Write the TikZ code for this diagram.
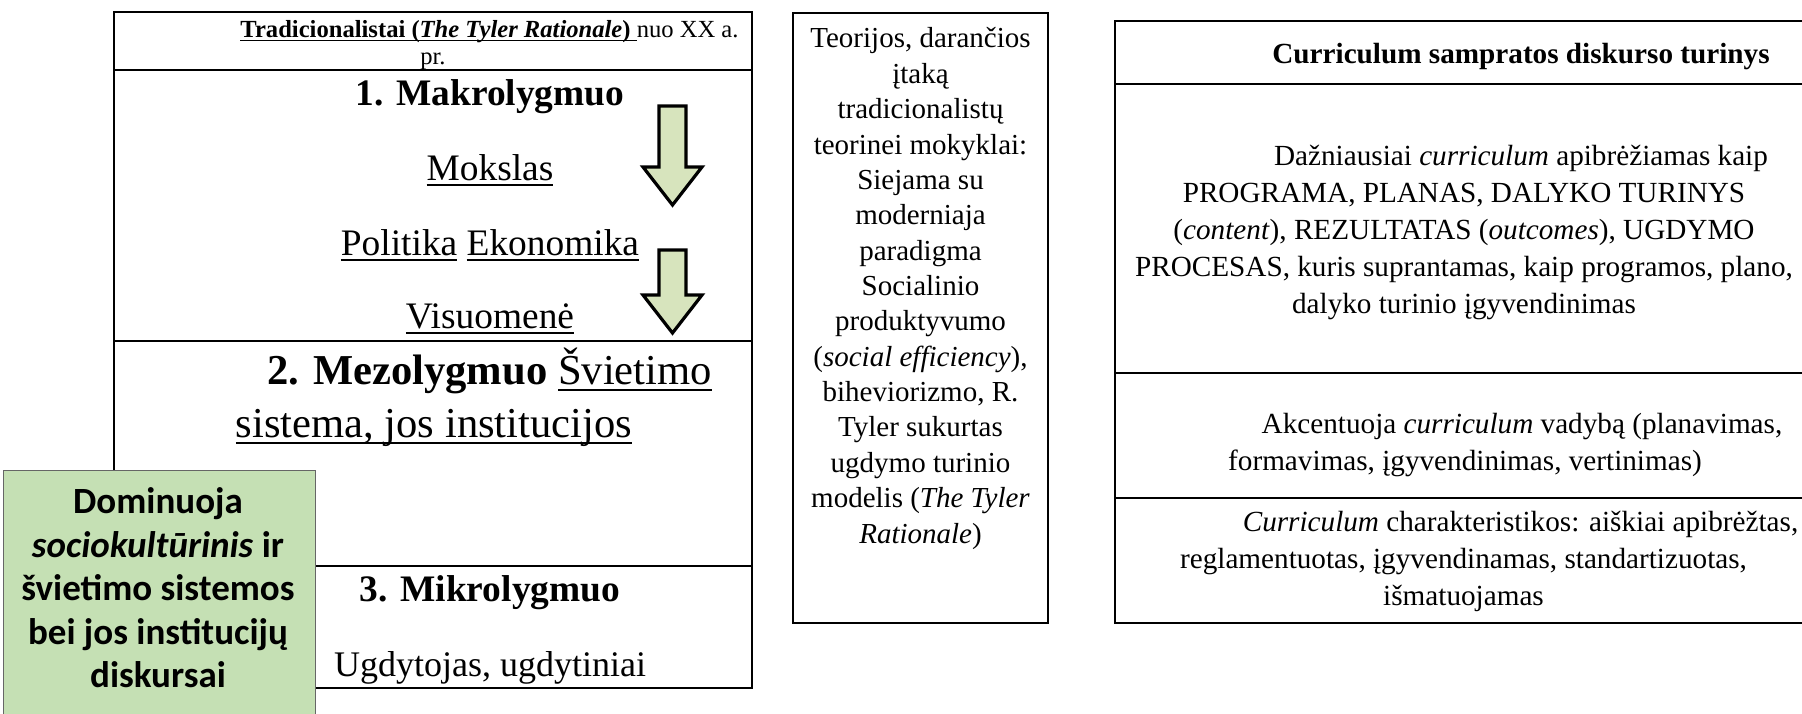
\documentclass[tikz,border=0pt]{standalone}
\usepackage{fontspec}
\setmainfont{Liberation Serif}
\newfontfamily\calibrifont{Carlito}
\definecolor{boxgreen}{HTML}{C5E0B4}
\definecolor{arrowgreen}{HTML}{D7E4BD}
% underline at a fixed depth, as in the word processor
\newcommand{\ulw}[1]{\setbox0=\hbox{#1}\rlap{\rule[-0.15em]{\wd0}{0.05em}}\box0\relax}
\begin{document}
\begin{tikzpicture}[x=0.5pt,y=-0.5pt,
    frame/.style={draw,line width=1.1pt},
    blockarrow/.style={draw,fill=arrowgreen,line width=1.6pt,line join=miter},
    lvl/.style={inner sep=0pt,anchor=base,font=\fontsize{18.7}{22}\selectfont},
    para/.style={inner sep=0pt,align=center,font=\fontsize{14.6}{18.5}\selectfont}]
\clip (0,0) rectangle (1802,713);
% Left box with the three levels
\draw[frame] (114,12) rectangle (752,688);
\draw[frame] (114,70) -- (752,70);
\draw[frame] (114,341) -- (752,341);
\draw[frame] (114,566) -- (752,566);
\node[inner sep=0pt,align=center,font=\fontsize{12.3}{13.4}\selectfont] (title) at (433,45)
  {\hspace*{56.5pt}\textbf{\ulw{Tradicionalistai (\textit{The Tyler Rationale}) }}nuo XX a.\\ pr.};
\node[lvl] (makro) at (490,105) {\textbf{1. Makrolygmuo}};
\node[lvl] (mokslas) at (490,180) {\ulw{Mokslas}};
\node[lvl] (politika) at (490,255) {\ulw{Politika} \ulw{Ekonomika}};
\node[lvl] (visuomene) at (490,328) {\ulw{Visuomenė}};
\node[inner sep=0pt,align=center,font=\fontsize{21.3}{26.5}\selectfont] (mezo) at (434,397)
  {\hspace*{55.5pt}\textbf{2. Mezolygmuo} \ulw{Švietimo}\\ \ulw{sistema, jos institucijos}};
\node[lvl] (mikro) at (490,601) {\textbf{3. Mikrolygmuo}};
\node[lvl,font=\fontsize{18}{22}\selectfont] (ugdytojas) at (490,676) {Ugdytojas, ugdytiniai};
% Block arrows
\foreach \ya/\yb/\yc in {106/167/205, 250/295/333}
  \draw[blockarrow] (659,\ya) -- (686,\ya) -- (686,\yb) -- (702,\yb) -- (672.5,\yc)
    -- (643,\yb) -- (659,\yb) -- cycle;
% Green box
\node[draw=black!60,fill=boxgreen,line width=0.6pt,minimum width=312pt*0.5,minimum height=300pt*0.5,
  anchor=north west,inner sep=0pt] (greenbox) at (3,470) {};
\node[inner sep=0pt,align=center,font=\calibrifont\bfseries\fontsize{18.5}{21.75}\selectfont] (dominuoja) at (158,588)
  {Dominuoja\\ \textit{sociokultūrinis} ir\\ švietimo sistemos\\ bei jos institucijų\\ diskursai};
% Middle box
\draw[frame] (793,13) rectangle (1048,623);
\node[inner sep=0pt,align=center,font=\fontsize{14.5}{17.68}\selectfont] (teorijos) at (920.5,288.5)
  {Teorijos, darančios\\ įtaką\\ tradicionalistų\\ teorinei mokyklai:\\ Siejama su\\ moderniaja\\ paradigma\\
   Socialinio\\ produktyvumo\\ (\textit{social efficiency}),\\ biheviorizmo, R.\\ Tyler sukurtas\\
   ugdymo turinio\\ modelis (\textit{The Tyler}\\ \textit{Rationale})};
% Right box
\draw[frame] (1115,21) rectangle (1815,623);
\draw[frame] (1115,84) -- (1815,84);
\draw[frame] (1115,373) -- (1815,373);
\draw[frame] (1115,498) -- (1815,498);
\node[inner sep=0pt,anchor=base,font=\bfseries\fontsize{14.6}{18.5}\selectfont] (samprata) at (1521,63)
  {Curriculum sampratos diskurso turinys};
\node[para] (programa) at (1464,232)
  {\hspace*{57pt}Dažniausiai \textit{curriculum} apibrėžiamas kaip\\ PROGRAMA, PLANAS, DALYKO TURINYS\\
   (\textit{content}), REZULTATAS (\textit{outcomes}), UGDYMO\\ PROCESAS, kuris suprantamas, kaip programos, plano,\\
   dalyko turinio įgyvendinimas};
\node[para] (vadyba) at (1465,445)
  {\hspace*{57pt}Akcentuoja \textit{curriculum} vadybą (planavimas,\\ formavimas, įgyvendinimas, vertinimas)};
\node[para] (charakt) at (1463.5,561)
  {\hspace*{57pt}\textit{Curriculum} charakteristikos: aiškiai apibrėžtas,\\ reglamentuotas, įgyvendinamas, standartizuotas,\\ išmatuojamas};
\end{tikzpicture}
\end{document}
